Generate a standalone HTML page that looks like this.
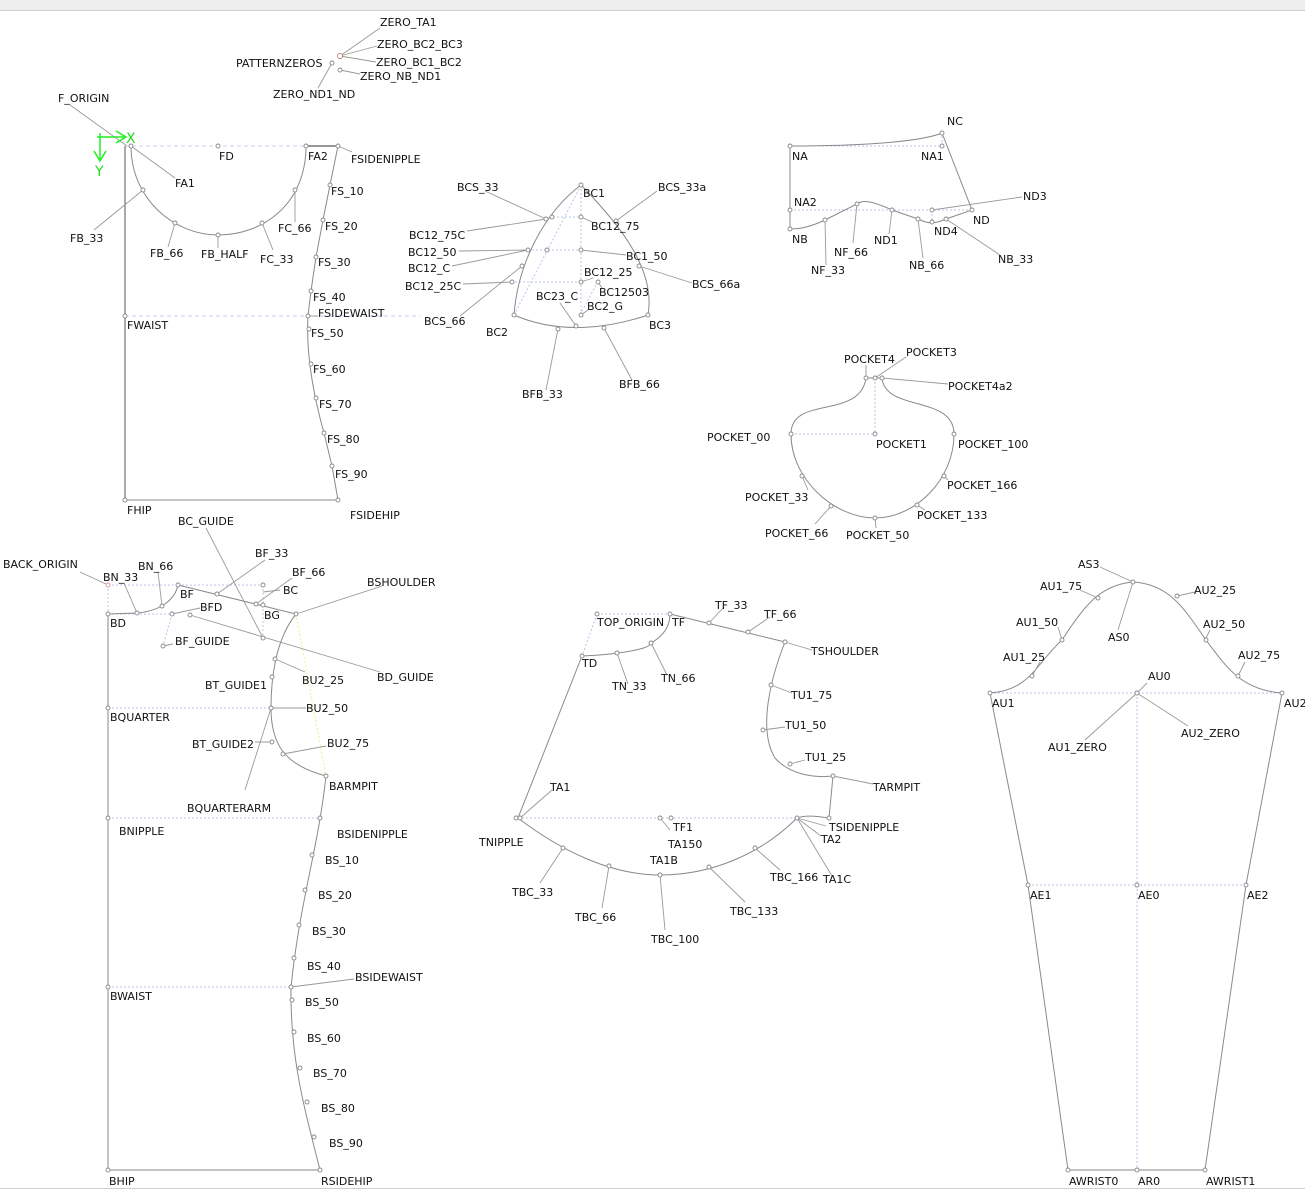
<!DOCTYPE html>
<html><head><meta charset="utf-8"><style>
html,body{margin:0;padding:0;background:#fff;width:1305px;height:1193px;overflow:hidden}
svg{display:block}
text{font-family:"DejaVu Sans","Liberation Sans",sans-serif;font-size:11px;fill:#111}
.l{stroke:#8a8a8a;stroke-width:1;fill:none}
.k{stroke:#999;stroke-width:0.9;fill:none}
.d{stroke:#b8c4ee;stroke-width:1;stroke-dasharray:2 2;fill:none}
.dd{stroke:#c8cff0;stroke-width:1;stroke-dasharray:4 3;fill:none}
circle{fill:#fff;stroke:#888;stroke-width:0.9}
.g{fill:#22dd22;font-size:14px}
</style></head><body>
<svg width="1305" height="1193" viewBox="0 0 1305 1193">
<rect x="0" y="0" width="1305" height="10" fill="#eeeeee"/>
<line x1="0" y1="10.5" x2="1305" y2="10.5" stroke="#cfcfcf"/>
<line x1="0" y1="1188.5" x2="1305" y2="1188.5" stroke="#cfcfcf"/>

<!-- PATTERN ZEROS -->
<g class="k">
<line x1="340" y1="56" x2="380" y2="28"/><line x1="340" y1="56" x2="377" y2="46"/><line x1="340" y1="56" x2="376" y2="62"/>
<line x1="340" y1="70" x2="360" y2="74"/><line x1="332" y1="63" x2="318" y2="88"/>
</g>
<circle cx="340" cy="56" r="2.5" style="stroke:#c77"/><circle cx="332" cy="63" r="2"/><circle cx="340" cy="70" r="2"/>
<text x="380" y="26">ZERO_TA1</text><text x="377" y="48">ZERO_BC2_BC3</text><text x="376" y="66">ZERO_BC1_BC2</text><text x="360" y="80">ZERO_NB_ND1</text><text x="236" y="67">PATTERNZEROS</text><text x="273" y="98">ZERO_ND1_ND</text>

<!-- FRONT -->
<line class="k" x1="70" y1="105" x2="127" y2="146"/>
<text x="58" y="102">F_ORIGIN</text>
<line class="dd" x1="125" y1="146" x2="306" y2="146"/>
<line x1="306" y1="146" x2="338" y2="146" stroke="#777" stroke-width="1.5"/>
<line x1="125" y1="146" x2="125" y2="500" stroke="#555" stroke-width="1"/>
<line class="l" x1="125" y1="500" x2="338" y2="500"/>
<line class="dd" x1="125" y1="316" x2="420" y2="316"/>
<path class="l" d="M131,146 C131,200 175,235 218,235 C262,235 306,205 306,146"/>
<path class="l" d="M338,146 L330,185 L323,220 L316,257 L311,291 L308,316 C306,350 312,390 324,433 L332,466 L338,500"/>
<g class="k">
<line x1="131" y1="146" x2="175" y2="178"/><line x1="143" y1="190" x2="94" y2="230"/><line x1="175" y1="223" x2="168" y2="247"/>
<line x1="218" y1="235" x2="218" y2="248"/><line x1="262" y1="223" x2="273" y2="250"/><line x1="295" y1="190" x2="295" y2="222"/>
<line x1="338" y1="146" x2="352" y2="152"/><line x1="308" y1="316" x2="318" y2="316"/>
</g>
<g><circle cx="131" cy="146" r="2"/><circle cx="218" cy="146" r="2"/><circle cx="306" cy="146" r="2"/><circle cx="338" cy="146" r="2"/>
<circle cx="143" cy="190" r="2"/><circle cx="175" cy="223" r="2"/><circle cx="218" cy="235" r="2"/><circle cx="262" cy="223" r="2"/><circle cx="295" cy="190" r="2"/>
<circle cx="330" cy="185" r="2"/><circle cx="323" cy="220" r="2"/><circle cx="316" cy="257" r="2"/><circle cx="311" cy="291" r="2"/><circle cx="308" cy="316" r="2"/><circle cx="309" cy="329" r="2"/>
<circle cx="311" cy="364" r="2"/><circle cx="316" cy="398" r="2"/><circle cx="324" cy="433" r="2"/><circle cx="332" cy="466" r="2"/><circle cx="338" cy="500" r="2"/>
<circle cx="125" cy="316" r="2"/><circle cx="125" cy="500" r="2"/></g>
<g stroke="#2e2" stroke-width="1.5" fill="none"><line x1="97" y1="137" x2="125" y2="137"/><polyline points="116,131 126,137 116,143"/><line x1="100" y1="133" x2="100" y2="160"/><polyline points="94,151 100,161 106,151"/></g>
<text x="126" y="143" class="g" fill="#22dd22">X</text><text x="95" y="176" class="g" fill="#22dd22">Y</text>
<text x="219" y="160">FD</text><text x="308" y="160">FA2</text><text x="351" y="163">FSIDENIPPLE</text><text x="175" y="187">FA1</text><text x="70" y="242">FB_33</text>
<text x="150" y="257">FB_66</text><text x="201" y="258">FB_HALF</text><text x="260" y="263">FC_33</text><text x="278" y="232">FC_66</text>
<text x="331" y="195">FS_10</text><text x="325" y="230">FS_20</text><text x="318" y="266">FS_30</text><text x="313" y="301">FS_40</text><text x="318" y="317">FSIDEWAIST</text>
<text x="311" y="337">FS_50</text><text x="313" y="373">FS_60</text><text x="319" y="408">FS_70</text><text x="327" y="443">FS_80</text><text x="335" y="478">FS_90</text>
<text x="127" y="329">FWAIST</text><text x="127" y="514">FHIP</text><text x="350" y="519">FSIDEHIP</text>

<!-- BUST -->
<line class="d" x1="514" y1="315" x2="581" y2="185"/><line class="d" x1="581" y1="185" x2="581" y2="315"/>
<line class="d" x1="545" y1="217" x2="582" y2="217"/><line class="d" x1="528" y1="250" x2="582" y2="250"/><line class="d" x1="515" y1="282" x2="582" y2="282"/>
<line class="d" x1="580" y1="315" x2="597" y2="283"/>
<path class="l" d="M514,315 C518,262 545,212 581,185 C620,225 656,270 648,315 C610,328 560,335 514,315"/>
<g class="k">
<line x1="546" y1="219" x2="485" y2="191"/><line x1="546" y1="219" x2="467" y2="231"/><line x1="528" y1="250" x2="459" y2="251"/><line x1="528" y1="250" x2="452" y2="266"/>
<line x1="512" y1="282" x2="463" y2="284"/><line x1="522" y1="266" x2="460" y2="316"/><line x1="616" y1="221" x2="657" y2="191"/>
<line x1="581" y1="217" x2="592" y2="222"/><line x1="581" y1="250" x2="626" y2="255"/><line x1="639" y1="266" x2="692" y2="283"/>
<line x1="581" y1="282" x2="593" y2="278"/><line x1="598" y1="282" x2="602" y2="288"/><line x1="576" y1="326" x2="560" y2="303"/><line x1="581" y1="315" x2="588" y2="310"/>
<line x1="558" y1="329" x2="546" y2="390"/><line x1="604" y1="328" x2="632" y2="380"/>
</g>
<g><circle cx="581" cy="185" r="2"/><circle cx="514" cy="315" r="2"/><circle cx="648" cy="315" r="2"/><circle cx="546" cy="219" r="2"/><circle cx="552" cy="217" r="2"/><circle cx="581" cy="217" r="2"/>
<circle cx="528" cy="250" r="2"/><circle cx="547" cy="250" r="2"/><circle cx="581" cy="250" r="2"/><circle cx="522" cy="266" r="2"/><circle cx="512" cy="282" r="2"/><circle cx="581" cy="282" r="2"/><circle cx="598" cy="282" r="2"/>
<circle cx="581" cy="315" r="2"/><circle cx="576" cy="326" r="2"/><circle cx="558" cy="329" r="2"/><circle cx="604" cy="328" r="2"/><circle cx="616" cy="221" r="2"/><circle cx="639" cy="266" r="2"/></g>
<text x="457" y="191">BCS_33</text><text x="583" y="197">BC1</text><text x="658" y="191">BCS_33a</text><text x="591" y="230">BC12_75</text><text x="409" y="239">BC12_75C</text>
<text x="408" y="256">BC12_50</text><text x="626" y="260">BC1_50</text><text x="408" y="272">BC12_C</text><text x="584" y="276">BC12_25</text><text x="692" y="288">BCS_66a</text>
<text x="405" y="290">BC12_25C</text><text x="599" y="296">BC12503</text><text x="536" y="300">BC23_C</text><text x="587" y="310">BC2_G</text><text x="424" y="325">BCS_66</text>
<text x="486" y="336">BC2</text><text x="649" y="329">BC3</text><text x="522" y="398">BFB_33</text><text x="619" y="388">BFB_66</text>

<!-- NECK -->
<line class="d" x1="790" y1="146" x2="942" y2="146"/><line class="d" x1="942" y1="146" x2="942" y2="133"/><line class="d" x1="790" y1="210" x2="972" y2="210"/><line class="d" x1="932" y1="210" x2="932" y2="222"/>
<path class="l" d="M790,146 C860,146 920,142 942,133 L972,210 L946,219 C935,224 928,224 918,219 L892,210 C870,200 862,200 857,204 L825,220 C810,227 800,229 790,229 Z"/>
<g class="k"><line x1="825" y1="220" x2="826" y2="265"/><line x1="857" y1="204" x2="853" y2="243"/><line x1="892" y1="210" x2="889" y2="234"/><line x1="918" y1="219" x2="923" y2="258"/>
<line x1="946" y1="219" x2="1000" y2="255"/><line x1="932" y1="210" x2="1022" y2="197"/></g>
<g><circle cx="790" cy="146" r="2"/><circle cx="942" cy="133" r="2"/><circle cx="942" cy="146" r="2"/><circle cx="790" cy="210" r="2"/><circle cx="790" cy="229" r="2"/><circle cx="825" cy="220" r="2"/><circle cx="857" cy="204" r="2"/>
<circle cx="892" cy="210" r="2"/><circle cx="918" cy="219" r="2"/><circle cx="932" cy="222" r="2"/><circle cx="946" cy="219" r="2"/><circle cx="972" cy="210" r="2"/><circle cx="932" cy="210" r="2"/></g>
<text x="947" y="125">NC</text><text x="792" y="160">NA</text><text x="921" y="160">NA1</text><text x="794" y="206">NA2</text><text x="1023" y="200">ND3</text><text x="973" y="224">ND</text>
<text x="934" y="235">ND4</text><text x="792" y="243">NB</text><text x="874" y="244">ND1</text><text x="834" y="256">NF_66</text><text x="811" y="274">NF_33</text><text x="909" y="269">NB_66</text><text x="998" y="263">NB_33</text>

<!-- POCKET -->
<line class="d" x1="791" y1="434" x2="875" y2="434"/><line class="d" x1="875" y1="378" x2="875" y2="434"/>
<path class="l" d="M866,378 C860,420 791,395 791,434 C791,480 835,518 875,518 C915,518 954,480 954,434 C954,395 885,412 882,378 Z"/>
<g class="k"><line x1="866" y1="378" x2="866" y2="365"/><line x1="875" y1="378" x2="906" y2="357"/><line x1="882" y1="378" x2="948" y2="384"/><line x1="802" y1="476" x2="808" y2="490"/>
<line x1="831" y1="506" x2="815" y2="524"/><line x1="875" y1="518" x2="876" y2="528"/><line x1="917" y1="505" x2="925" y2="510"/><line x1="944" y1="476" x2="948" y2="480"/></g>
<g><circle cx="866" cy="378" r="2"/><circle cx="875" cy="378" r="2"/><circle cx="882" cy="378" r="2"/><circle cx="791" cy="434" r="2"/><circle cx="875" cy="434" r="2"/><circle cx="954" cy="434" r="2"/>
<circle cx="802" cy="476" r="2"/><circle cx="831" cy="506" r="2"/><circle cx="875" cy="518" r="2"/><circle cx="917" cy="505" r="2"/><circle cx="944" cy="476" r="2"/></g>
<text x="844" y="363">POCKET4</text><text x="906" y="356">POCKET3</text><text x="948" y="390">POCKET4a2</text><text x="707" y="441">POCKET_00</text><text x="876" y="448">POCKET1</text><text x="958" y="448">POCKET_100</text>
<text x="745" y="501">POCKET_33</text><text x="947" y="489">POCKET_166</text><text x="917" y="519">POCKET_133</text><text x="765" y="537">POCKET_66</text><text x="846" y="539">POCKET_50</text>

<!-- BACK -->
<line class="d" x1="108" y1="585" x2="178" y2="585"/><line class="d" x1="178" y1="585" x2="265" y2="585"/><line class="d" x1="108" y1="585" x2="108" y2="614"/><line class="d" x1="108" y1="614" x2="172" y2="614"/>
<line class="d" x1="172" y1="614" x2="163" y2="646"/><line class="d" x1="263" y1="585" x2="263" y2="638"/><line class="d" x1="108" y1="708" x2="271" y2="708"/><line class="d" x1="108" y1="818" x2="320" y2="818"/><line class="d" x1="108" y1="987" x2="291" y2="987"/>
<line x1="296" y1="614" x2="326" y2="776" stroke="#f0f080" stroke-dasharray="2 2"/>
<line x1="108" y1="614" x2="108" y2="1170" stroke="#888"/>
<line class="l" x1="108" y1="1170" x2="320" y2="1170"/>
<path class="l" d="M108,614 L137,613 C160,611 175,600 178,585 L296,614 C275,640 271,680 271,708 C271,745 285,765 326,776 C318,850 300,900 291,987 C290,1060 305,1110 320,1170"/>
<g class="k"><line x1="80" y1="572" x2="108" y2="585"/><line x1="137" y1="613" x2="124" y2="583"/><line x1="162" y1="606" x2="158" y2="572"/><line x1="217" y1="594" x2="265" y2="560"/>
<line x1="256" y1="604" x2="292" y2="578"/><line x1="263" y1="592" x2="280" y2="590"/><line x1="296" y1="614" x2="382" y2="586"/><line x1="172" y1="614" x2="200" y2="608"/>
<line x1="190" y1="615" x2="380" y2="672"/><line x1="206" y1="528" x2="263" y2="638"/><line x1="163" y1="646" x2="173" y2="644"/>
<line x1="275" y1="659" x2="305" y2="672"/><line x1="271" y1="708" x2="306" y2="708"/><line x1="283" y1="754" x2="326" y2="746"/><line x1="271" y1="708" x2="245" y2="790"/><line x1="255" y1="742" x2="272" y2="742"/>
<line x1="291" y1="987" x2="354" y2="979"/></g>
<g><circle cx="108" cy="585" r="2" style="stroke:#d99"/><circle cx="108" cy="614" r="2"/><circle cx="137" cy="613" r="2"/><circle cx="162" cy="606" r="2"/><circle cx="178" cy="585" r="2"/><circle cx="217" cy="594" r="2"/>
<circle cx="256" cy="604" r="2"/><circle cx="263" cy="605" r="2"/><circle cx="263" cy="585" r="2"/><circle cx="296" cy="614" r="2"/><circle cx="172" cy="614" r="2"/><circle cx="190" cy="615" r="2"/><circle cx="263" cy="638" r="2"/><circle cx="163" cy="646" r="2"/>
<circle cx="275" cy="659" r="2"/><circle cx="272" cy="677" r="2"/><circle cx="271" cy="708" r="2"/><circle cx="272" cy="742" r="2"/><circle cx="283" cy="754" r="2"/><circle cx="326" cy="776" r="2"/>
<circle cx="108" cy="708" r="2"/><circle cx="108" cy="818" r="2"/><circle cx="108" cy="987" r="2"/><circle cx="108" cy="1170" r="2"/><circle cx="320" cy="1170" r="2"/>
<circle cx="320" cy="818" r="2"/><circle cx="312" cy="855" r="2"/><circle cx="305" cy="890" r="2"/><circle cx="299" cy="925" r="2"/><circle cx="294" cy="958" r="2"/><circle cx="291" cy="987" r="2"/><circle cx="292" cy="1000" r="2"/>
<circle cx="294" cy="1032" r="2"/><circle cx="300" cy="1068" r="2"/><circle cx="307" cy="1102" r="2"/><circle cx="314" cy="1137" r="2"/></g>
<text x="3" y="568">BACK_ORIGIN</text><text x="103" y="581">BN_33</text><text x="138" y="570">BN_66</text><text x="178" y="525">BC_GUIDE</text><text x="255" y="557">BF_33</text><text x="292" y="576">BF_66</text>
<text x="180" y="598">BF</text><text x="283" y="594">BC</text><text x="367" y="586">BSHOULDER</text><text x="200" y="611">BFD</text><text x="264" y="619">BG</text><text x="110" y="627">BD</text>
<text x="175" y="645">BF_GUIDE</text><text x="377" y="681">BD_GUIDE</text><text x="302" y="684">BU2_25</text><text x="205" y="689">BT_GUIDE1</text><text x="306" y="712">BU2_50</text>
<text x="110" y="721">BQUARTER</text><text x="192" y="748">BT_GUIDE2</text><text x="327" y="747">BU2_75</text><text x="329" y="790">BARMPIT</text><text x="187" y="812">BQUARTERARM</text>
<text x="119" y="835">BNIPPLE</text><text x="337" y="838">BSIDENIPPLE</text><text x="325" y="864">BS_10</text><text x="318" y="899">BS_20</text><text x="312" y="935">BS_30</text><text x="307" y="970">BS_40</text>
<text x="355" y="981">BSIDEWAIST</text><text x="110" y="1000">BWAIST</text><text x="305" y="1006">BS_50</text><text x="307" y="1042">BS_60</text><text x="313" y="1077">BS_70</text><text x="321" y="1112">BS_80</text>
<text x="329" y="1147">BS_90</text><text x="109" y="1185">BHIP</text><text x="321" y="1185">RSIDEHIP</text>

<!-- TOP -->
<line class="d" x1="597" y1="614" x2="670" y2="614"/><line class="d" x1="597" y1="614" x2="582" y2="656"/><line class="d" x1="518" y1="818" x2="797" y2="818"/>
<path class="l" d="M670,614 L785,642 C770,680 758,730 775,758 C790,775 815,778 833,776 L829,818 C815,816 805,815 797,818 C760,855 710,875 660,875 C610,875 560,850 518,818 L582,656 C610,655 650,650 651,643 C665,635 670,625 670,614"/>
<g class="k"><line x1="709" y1="623" x2="724" y2="607"/><line x1="748" y1="632" x2="770" y2="617"/><line x1="785" y1="642" x2="812" y2="650"/><line x1="617" y1="653" x2="628" y2="684"/>
<line x1="651" y1="643" x2="667" y2="675"/><line x1="771" y1="685" x2="792" y2="693"/><line x1="763" y1="730" x2="785" y2="727"/><line x1="790" y1="764" x2="805" y2="760"/><line x1="833" y1="776" x2="873" y2="784"/>
<line x1="520" y1="818" x2="552" y2="790"/><line x1="797" y1="818" x2="826" y2="826"/><line x1="797" y1="818" x2="821" y2="836"/><line x1="797" y1="818" x2="832" y2="876"/>
<line x1="660" y1="818" x2="670" y2="830"/><line x1="563" y1="848" x2="540" y2="883"/><line x1="609" y1="866" x2="602" y2="908"/><line x1="660" y1="875" x2="665" y2="930"/>
<line x1="709" y1="867" x2="745" y2="902"/><line x1="755" y1="848" x2="780" y2="870"/></g>
<g><circle cx="597" cy="614" r="2"/><circle cx="670" cy="614" r="2"/><circle cx="709" cy="623" r="2"/><circle cx="748" cy="632" r="2"/><circle cx="785" cy="642" r="2"/><circle cx="582" cy="656" r="2"/>
<circle cx="617" cy="653" r="2"/><circle cx="651" cy="643" r="2"/><circle cx="771" cy="685" r="2"/><circle cx="763" cy="730" r="2"/><circle cx="790" cy="764" r="2"/><circle cx="833" cy="776" r="2"/>
<circle cx="516" cy="818" r="2"/><circle cx="520" cy="818" r="2"/><circle cx="660" cy="818" r="2"/><circle cx="671" cy="818" r="2"/><circle cx="797" cy="818" r="2"/><circle cx="829" cy="818" r="2"/>
<circle cx="563" cy="848" r="2"/><circle cx="609" cy="866" r="2"/><circle cx="660" cy="875" r="2"/><circle cx="709" cy="867" r="2"/><circle cx="755" cy="848" r="2"/></g>
<text x="715" y="609">TF_33</text><text x="764" y="618">TF_66</text><text x="597" y="626">TOP_ORIGIN</text><text x="672" y="626">TF</text><text x="811" y="655">TSHOULDER</text><text x="582" y="667">TD</text>
<text x="661" y="682">TN_66</text><text x="612" y="690">TN_33</text><text x="791" y="699">TU1_75</text><text x="785" y="729">TU1_50</text><text x="805" y="761">TU1_25</text><text x="873" y="791">TARMPIT</text>
<text x="550" y="791">TA1</text><text x="673" y="831">TF1</text><text x="829" y="831">TSIDENIPPLE</text><text x="479" y="846">TNIPPLE</text><text x="821" y="843">TA2</text><text x="668" y="848">TA150</text>
<text x="650" y="864">TA1B</text><text x="770" y="881">TBC_166</text><text x="823" y="883">TA1C</text><text x="512" y="896">TBC_33</text><text x="730" y="915">TBC_133</text><text x="575" y="921">TBC_66</text><text x="651" y="943">TBC_100</text>

<!-- SLEEVE -->
<line class="d" x1="990" y1="693" x2="1282" y2="693"/><line class="d" x1="1028" y1="885" x2="1246" y2="885"/><line class="d" x1="1137" y1="693" x2="1137" y2="1170"/>
<path class="l" d="M990,693 C1030,690 1035,665 1062,640 C1085,605 1100,585 1133,582 C1170,584 1185,610 1206,640 C1225,665 1240,690 1282,693 L1246,885 L1205,1170 L1068,1170 L1028,885 Z"/>
<g class="k"><line x1="1133" y1="582" x2="1118" y2="630"/><line x1="1133" y1="582" x2="1100" y2="567"/><line x1="1098" y1="598" x2="1080" y2="590"/><line x1="1177" y1="596" x2="1195" y2="592"/>
<line x1="1062" y1="640" x2="1058" y2="627"/><line x1="1206" y1="638" x2="1210" y2="630"/><line x1="1032" y1="676" x2="1040" y2="662"/><line x1="1238" y1="676" x2="1245" y2="662"/>
<line x1="1137" y1="693" x2="1085" y2="740"/><line x1="1137" y1="693" x2="1188" y2="726"/><line x1="1137" y1="693" x2="1147" y2="683"/></g>
<g><circle cx="1133" cy="582" r="2"/><circle cx="1098" cy="598" r="2"/><circle cx="1177" cy="596" r="2"/><circle cx="1062" cy="640" r="2"/><circle cx="1206" cy="640" r="2"/><circle cx="1032" cy="676" r="2"/><circle cx="1238" cy="676" r="2"/>
<circle cx="990" cy="693" r="2"/><circle cx="1137" cy="693" r="2"/><circle cx="1282" cy="693" r="2"/><circle cx="1028" cy="885" r="2"/><circle cx="1137" cy="885" r="2"/><circle cx="1246" cy="885" r="2"/>
<circle cx="1068" cy="1170" r="2"/><circle cx="1137" cy="1170" r="2"/><circle cx="1205" cy="1170" r="2"/></g>
<text x="1078" y="568">AS3</text><text x="1040" y="590">AU1_75</text><text x="1194" y="594">AU2_25</text><text x="1016" y="626">AU1_50</text><text x="1203" y="628">AU2_50</text><text x="1108" y="641">AS0</text>
<text x="1003" y="661">AU1_25</text><text x="1238" y="659">AU2_75</text><text x="1148" y="680">AU0</text><text x="992" y="707">AU1</text><text x="1284" y="707">AU2</text>
<text x="1181" y="737">AU2_ZERO</text><text x="1048" y="751">AU1_ZERO</text><text x="1030" y="899">AE1</text><text x="1138" y="899">AE0</text><text x="1247" y="899">AE2</text>
<text x="1069" y="1185">AWRIST0</text><text x="1138" y="1185">AR0</text><text x="1206" y="1185">AWRIST1</text>
</svg>
</body></html>
